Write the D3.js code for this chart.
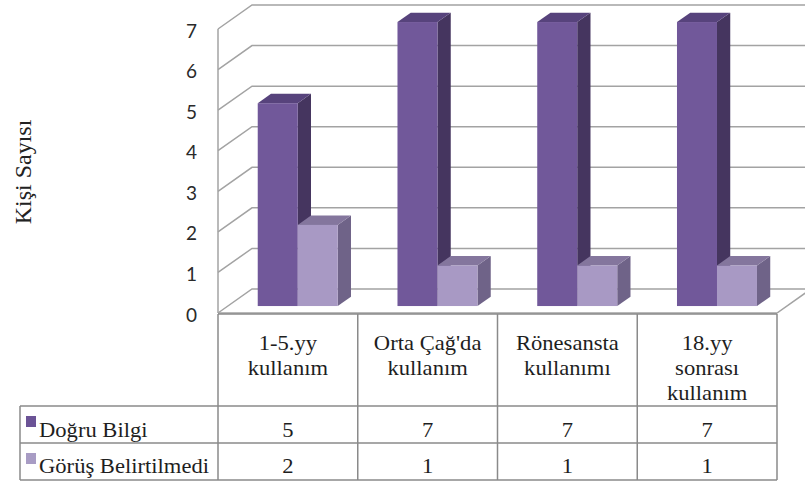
<!DOCTYPE html>
<html>
<head>
<meta charset="utf-8">
<script src="https://cdn.jsdelivr.net/npm/d3@7"></script>
<style>
  body { margin: 0; background: #fff; }
  svg { display: block; }
  .serif { font-family: "Liberation Serif", "DejaVu Serif", serif; font-size: 20px; }
</style>
</head>
<body>
<div id="chart"></div>
<script>
// data
var categories = [["1-5.yy", "kullanım"], ["Orta Çağ'da", "kullanım"], ["Rönesansta", "kullanımı"], ["18.yy", "sonrası", "kullanım"]];
var seriesNames = ["Doğru Bilgi", "Görüş Belirtilmedi"];
var dogruBilgi = [5, 7, 7, 7];
var gorusBelirtilmedi = [2, 1, 1, 1];
var yTicks = [0, 1, 2, 3, 4, 5, 6, 7];
var yTitle = "Kişi Sayısı";

var seriesValues = [dogruBilgi, gorusBelirtilmedi];

var width = 805, height = 484;
// 3d depth of the plot box
var DX = 34, DY = 24;
var zFront = 0.29, zBack = 0.68;
// table text in the picture is a bit stretched sideways
var stretch = 1.13;

var faceColors = [
  { front: "#71589a", top: "#57437c", side: "#45355f" },
  { front: "#a899c4", top: "#84769d", side: "#6f6388" }
];
var keyColors = ["#6b5396", "#a89cc4"];

var svg = d3.select("#chart").append("svg")
  .attr("width", width)
  .attr("height", height);

var x = d3.scaleBand()
  .domain(d3.range(categories.length))
  .range([218, 777])
  .padding(0);

var y = d3.scaleLinear()
  .domain([0, 7])
  .range([313, 29]);

// project a point of the front plane back by depth z (0..1)
function p(px, v, z) {
  return [px + z * DX, y(v) - z * DY];
}
function pts(list) {
  return list.map(function(d) { return d.join(","); }).join(" ");
}
function place(px, py) {
  return "translate(" + px + "," + py + ") scale(" + stretch + ",1)";
}

var grid = svg.append("g")
  .attr("fill", "none")
  .attr("stroke", "#a3a3a3")
  .attr("stroke-width", 1.5);

var x0 = x.range()[0], x1 = x.range()[1];

// side wall and back wall gridlines
yTicks.forEach(function(t) {
  grid.append("polyline").attr("points", pts([p(x0, t, 0), p(x0, t, 1), p(x1, t, 1)]));
});

// front vertical edge and floor edges
grid.append("line")
  .attr("x1", x0).attr("y1", y(7)).attr("x2", x0).attr("y2", y(0));
grid.append("polyline")
  .attr("points", pts([p(x0, 0, 0), p(x1, 0, 0), p(x1, 0, 1)]));

// bars
var sub = d3.scaleBand().domain(d3.range(seriesNames.length)).range([-40, 40]);
var bars = svg.append("g");

categories.forEach(function(cat, i) {
  var cx = x(i) + x.bandwidth() / 2;
  seriesValues.forEach(function(vals, s) {
    var v = vals[i];
    var xl = cx + sub(s), xr = xl + sub.bandwidth();
    var col = faceColors[s];
    var fl = p(xl, v, zFront), fr = p(xr, v, zFront);
    var bl = p(xl, 0, zFront), br = p(xr, 0, zFront);
    var tl = p(xl, v, zBack), tr = p(xr, v, zBack), brb = p(xr, 0, zBack);
    // side face
    bars.append("polygon")
      .attr("points", pts([fr, tr, brb, br]))
      .attr("fill", col.side);
    // top face
    bars.append("polygon")
      .attr("points", pts([fl, tl, tr, fr]))
      .attr("fill", col.top);
    // front face
    bars.append("rect")
      .attr("x", fl[0])
      .attr("y", fl[1])
      .attr("width", fr[0] - fl[0])
      .attr("height", bl[1] - fl[1])
      .attr("fill", col.front);
  });
});

// y axis labels
var yAxis = d3.axisLeft(y).tickValues(yTicks).tickFormat(d3.format("d")).tickSize(0).tickPadding(0);
var yg = svg.append("g")
  .attr("transform", "translate(197,2)")
  .call(yAxis);
yg.select(".domain").remove();
yg.selectAll("text")
  .attr("font-family", "Lato, 'Open Sans', sans-serif")
  .attr("font-size", 19)
  .attr("fill", "#2a2a2a");

svg.append("text")
  .attr("class", "serif")
  .attr("transform", "translate(31,172)rotate(-90)")
  .attr("text-anchor", "middle")
  .style("font-size", "24px")
  .attr("fill", "#222")
  .text(yTitle);

// data table
var tableTop = 314, headBottom = 406, rowH = 37, tableLeft = 20;
var tbl = svg.append("g")
  .attr("fill", "#1e1e1e");

var border = svg.append("g")
  .attr("fill", "none")
  .attr("stroke", "#8a8a8a")
  .attr("stroke-width", 1.5);

// header cell verticals
d3.range(categories.length + 1).forEach(function(i) {
  var xx = i < categories.length ? x(i) : x1;
  border.append("line")
    .attr("x1", xx).attr("y1", tableTop)
    .attr("x2", xx).attr("y2", headBottom + rowH * seriesNames.length);
});
// horizontals
border.append("line").attr("x1", x0).attr("x2", x1).attr("y1", tableTop).attr("y2", tableTop);
d3.range(seriesNames.length + 1).forEach(function(r) {
  var yy = headBottom + r * rowH;
  border.append("line").attr("x1", tableLeft).attr("x2", x1).attr("y1", yy).attr("y2", yy);
});
border.append("line")
  .attr("x1", tableLeft).attr("x2", tableLeft)
  .attr("y1", headBottom).attr("y2", headBottom + rowH * seriesNames.length);

// category labels
categories.forEach(function(lines, i) {
  var t = tbl.append("text")
    .attr("class", "serif")
    .attr("text-anchor", "middle")
    .attr("transform", place(x(i) + x.bandwidth() / 2, 350));
  lines.forEach(function(l, k) {
    t.append("tspan")
      .attr("x", 0)
      .attr("dy", k === 0 ? 0 : 25)
      .text(l);
  });
});

// legend rows and values
seriesNames.forEach(function(name, s) {
  var rowY = headBottom + s * rowH;
  svg.append("rect")
    .attr("x", 26).attr("y", rowY + 10)
    .attr("width", 10).attr("height", 11)
    .attr("fill", keyColors[s]);
  tbl.append("text")
    .attr("class", "serif")
    .attr("transform", place(39, rowY + 31 - s))
    .text(name);
  seriesValues[s].forEach(function(v, i) {
    tbl.append("text")
      .attr("class", "serif")
      .attr("text-anchor", "middle")
      .attr("transform", place(x(i) + x.bandwidth() / 2, rowY + 31 - s))
      .text(v);
  });
});
</script>
</body>
</html>
